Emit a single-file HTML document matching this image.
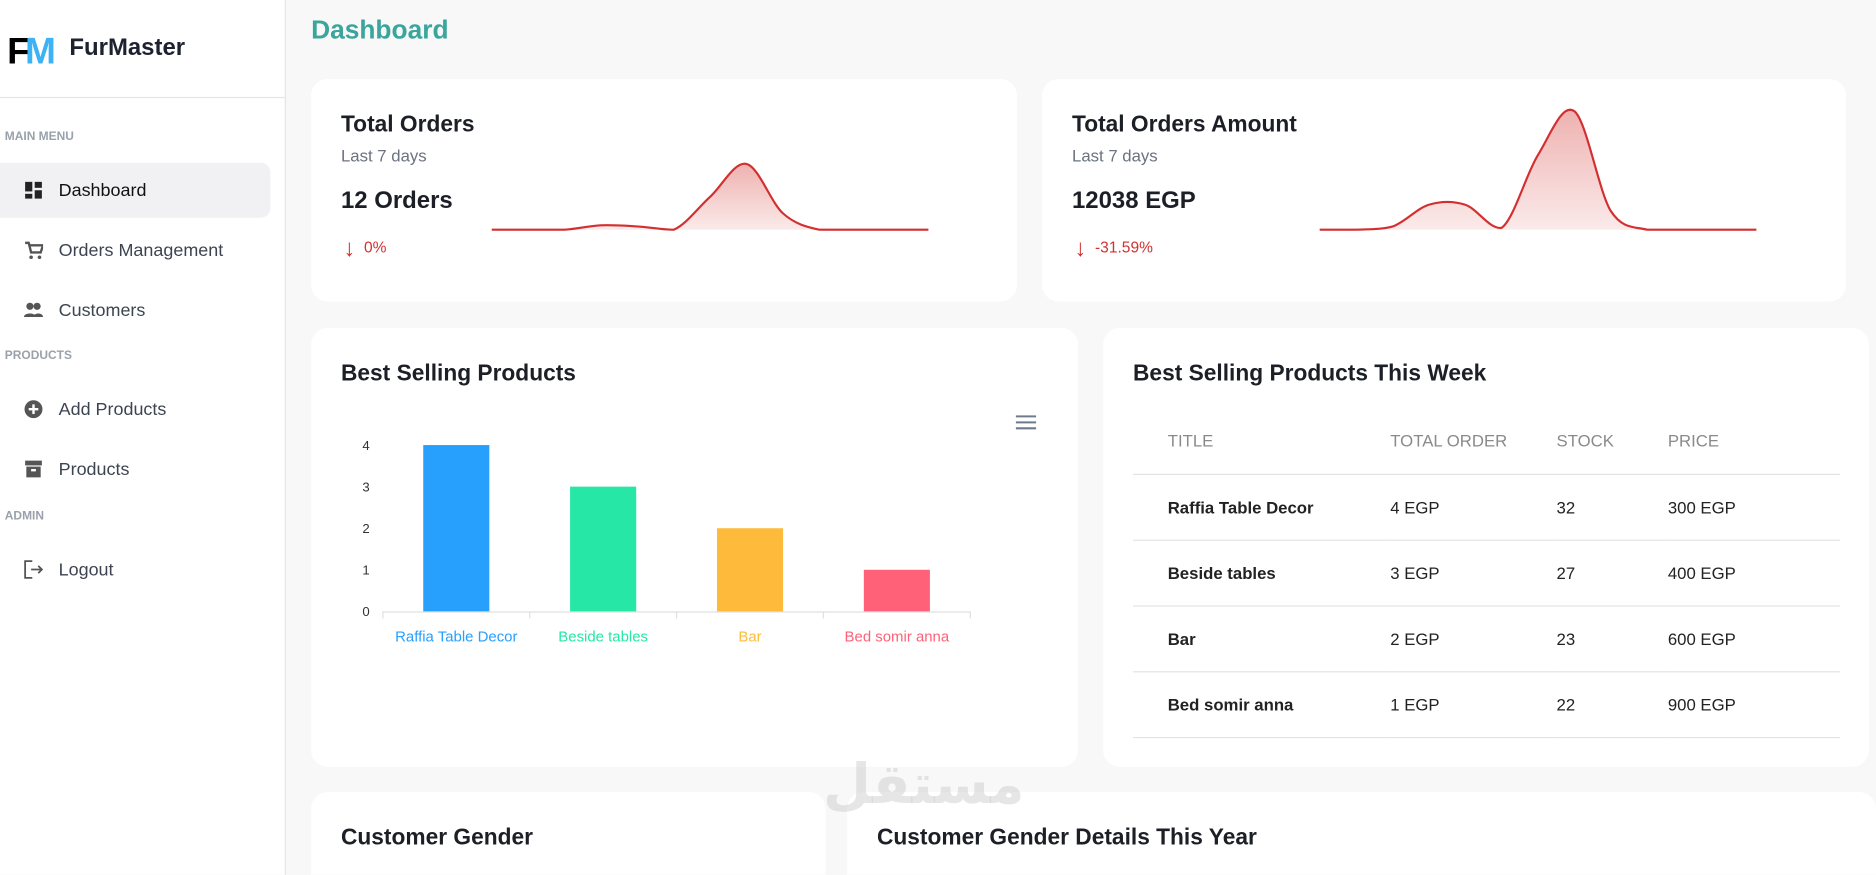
<!DOCTYPE html>
<html><head><meta charset="utf-8">
<style>
html,body{margin:0;padding:0;width:1876px;height:875px;overflow:hidden;background:#f8f8f8;font-family:"Liberation Sans",sans-serif;}
#root{position:absolute;left:0;top:0;width:1568px;height:731px;overflow:hidden;transform:scale(1.19643);transform-origin:0 0;}
.abs{position:absolute;}
.card{position:absolute;background:#fff;border-radius:14px;}
.nav{position:absolute;left:0;width:226px;height:46px;display:flex;align-items:center;font-size:15px;color:#3d4451;}
.nav svg{margin-left:20px;margin-right:13px;}
.sec{position:absolute;left:4px;font-size:10px;font-weight:bold;color:#9aa1ab;}
h2{margin:0;position:absolute;font-size:19px;font-weight:bold;color:#1c1f26;}
.sub{position:absolute;font-size:14px;color:#6b7280;}
.big{position:absolute;font-size:20px;font-weight:bold;color:#1c1f26;}
.pct{position:absolute;font-size:13px;color:#d32f2f;}
table{position:absolute;border-collapse:collapse;font-size:14px;color:#222;}
td,th{height:54px;padding:0;text-align:left;border-bottom:1px solid #e3e3e3;}
th{font-weight:normal;color:#8a8a8a;height:56px;}
</style></head><body>
<div id="root">
<div class="abs" style="left:0;top:0;width:238px;height:731px;background:#fff;border-right:1px solid #e5e5e5;">
  <div class="abs" style="left:6px;top:28px;width:40px;height:30px;font-weight:900;font-size:31px;line-height:30px;letter-spacing:-4px;"><span style="color:#000">F</span><span style="color:#3db3f5">M</span></div>
  <div class="abs" style="left:58px;top:29px;font-size:20px;font-weight:bold;color:#1c2230;">FurMaster</div>
  <div class="abs" style="left:0;top:81px;width:238px;border-top:1px solid #e5e5e5;"></div>
  <div class="sec" style="top:109px">MAIN MENU</div>
  <div class="nav" style="top:136px;background:#f1f1f3;border-radius:0 8px 8px 0;color:#111"><svg width="16" height="16"><rect x="1" y="1" width="6" height="8" fill="#222"/><rect x="9" y="1" width="6" height="5" fill="#222"/><rect x="1" y="11" width="6" height="4" fill="#222"/><rect x="9" y="8" width="6" height="7" fill="#222"/></svg>Dashboard</div>
  <div class="nav" style="top:186px"><svg width="16" height="16"><path d="M1 2h3l2 8h8l2-6H5" fill="none" stroke="#555" stroke-width="2"/><circle cx="6" cy="14" r="1.5" fill="#555"/><circle cx="13" cy="14" r="1.5" fill="#555"/></svg>Orders Management</div>
  <div class="nav" style="top:236px"><svg width="16" height="16"><circle cx="5" cy="5" r="3" fill="#555"/><circle cx="11" cy="5" r="3" fill="#555"/><path d="M0 14c0-4 10-4 10 0zM8 14c0-4 8-4 8 0z" fill="#555"/></svg>Customers</div>
  <div class="sec" style="top:292px">PRODUCTS</div>
  <div class="nav" style="top:319px"><svg width="16" height="16"><circle cx="8" cy="8" r="7.5" fill="#555"/><path d="M8 4v8M4 8h8" stroke="#fff" stroke-width="2"/></svg>Add Products</div>
  <div class="nav" style="top:369px"><svg width="16" height="16"><rect x="1" y="1" width="14" height="4" fill="#555"/><rect x="2" y="6" width="12" height="9" fill="#555"/><rect x="6" y="8" width="4" height="2" fill="#fff"/></svg>Products</div>
  <div class="sec" style="top:426px">ADMIN</div>
  <div class="nav" style="top:453px"><svg width="16" height="16"><path d="M7 1H1v14h6M6 8h9M12 5l3 3-3 3" fill="none" stroke="#555" stroke-width="1.5"/></svg>Logout</div>
</div>
<div class="abs" style="left:260px;top:12px;font-size:22px;font-weight:bold;color:#3aa59c;">Dashboard</div>

<div class="card" style="left:260px;top:66px;width:590px;height:186px">
  <h2 style="left:25px;top:28px">Total Orders</h2>
  <div class="sub" style="left:25px;top:56px">Last 7 days</div>
  <div class="big" style="left:25px;top:91px">12 Orders</div>
  <div class="pct" style="left:27px;top:131px"><span style="font-size:20px;vertical-align:-3px">↓</span>&nbsp; 0%</div>
</div>
<div class="card" style="left:871px;top:66px;width:672px;height:186px">
  <h2 style="left:25px;top:28px">Total Orders Amount</h2>
  <div class="sub" style="left:25px;top:56px">Last 7 days</div>
  <div class="big" style="left:25px;top:91px">12038 EGP</div>
  <div class="pct" style="left:27px;top:131px"><span style="font-size:20px;vertical-align:-3px">↓</span>&nbsp; -31.59%</div>
</div>
<svg class="abs" id="spark" style="left:0;top:0" width="1568" height="260"></svg>

<div class="card" style="left:260px;top:274px;width:641px;height:367px">
  <h2 style="left:25px;top:28px">Best Selling Products</h2>
  <svg class="abs" style="left:589px;top:73px" width="18" height="12"><path d="M0 1h17M0 6h17M0 11h17" stroke="#6e7b8c" stroke-width="1.7"/></svg>
</div>
<svg class="abs" id="bars" style="left:0;top:0" width="1568" height="560"></svg>

<div class="card" style="left:922px;top:274px;width:640px;height:367px">
  <h2 style="left:25px;top:28px">Best Selling Products This Week</h2>
  <table style="left:25px;top:66px;width:591px">
    <tr><th style="padding-left:29px;width:186px">TITLE</th><th style="width:139px">TOTAL ORDER</th><th style="width:93px">STOCK</th><th>PRICE</th></tr>
    <tr><td style="padding-left:29px;font-weight:bold">Raffia Table Decor</td><td>4 EGP</td><td>32</td><td>300 EGP</td></tr>
    <tr><td style="padding-left:29px;font-weight:bold">Beside tables</td><td>3 EGP</td><td>27</td><td>400 EGP</td></tr>
    <tr><td style="padding-left:29px;font-weight:bold">Bar</td><td>2 EGP</td><td>23</td><td>600 EGP</td></tr>
    <tr><td style="padding-left:29px;font-weight:bold">Bed somir anna</td><td>1 EGP</td><td>22</td><td>900 EGP</td></tr>
  </table>
</div>

<div class="card" style="left:260px;top:662px;width:430px;height:100px"><h2 style="left:25px;top:28px">Customer Gender</h2></div>
<div class="card" style="left:708px;top:662px;width:860px;height:100px"><h2 style="left:25px;top:28px">Customer Gender Details This Year</h2></div>
<div class="abs" style="left:688px;top:628px;font-size:46px;font-weight:bold;color:rgba(200,200,200,0.45);font-family:'DejaVu Sans',sans-serif;">مستقل</div>
</div>
<script>
const ordersSeries=[0,0,0,0.8,0.6,0,6,12,3,0,0,0,0];
const amountSeries=[0,0,0.5,4,4,0.3,12,19,3,0,0,0,0];
const categories=["Raffia Table Decor","Beside tables","Bar","Bed somir anna"];
const sales=[4,3,2,1];
const yTicks=[0,1,2,3,4];
const barColors=["#279ffd","#26e7a6","#febb3b","#ff6178"];
const NS="http://www.w3.org/2000/svg";
function mk(t,a,p){const e=document.createElementNS(NS,t);for(const k in a)e.setAttribute(k,a[k]);p.appendChild(e);return e;}
const sp=document.getElementById('spark');
const defs=mk('defs',{},sp);
const g=mk('linearGradient',{id:'gr',x1:0,y1:0,x2:0,y2:1},defs);
mk('stop',{offset:'0','stop-color':'#d9534f','stop-opacity':'0.45'},g);
mk('stop',{offset:'1','stop-color':'#d9534f','stop-opacity':'0.12'},g);
function spark(vals,x0,x1,base,maxV,maxH,name){
  const n=vals.length,sx=i=>x0+(x1-x0)*i/(n-1),sy=v=>base-v/maxV*maxH;
  const P=vals.map((v,i)=>[sx(i),sy(v)]);
  let d=`M${P[0][0]},${P[0][1]}`;
  for(let i=0;i<n-1;i++){const p0=P[Math.max(0,i-1)],p1=P[i],p2=P[i+1],p3=P[Math.min(n-1,i+2)];
    let c1y=p1[1]+(p2[1]-p0[1])/6,c2y=p2[1]-(p3[1]-p1[1])/6;c1y=Math.min(c1y,base);c2y=Math.min(c2y,base);
    d+=` C${p1[0]+(p2[0]-p0[0])/6},${c1y} ${p2[0]-(p3[0]-p1[0])/6},${c2y} ${p2[0]},${p2[1]}`;}
  const a=mk('path',{d:d+` L${x1},${base} L${x0},${base}Z`,fill:'url(#gr)'},sp);
  
  
  const l=mk('path',{d:d,fill:'none',stroke:'#d32f2f','stroke-width':1.8},sp);
  
  
}
spark(ordersSeries,411,776,192,12,55,'orders-sparkline');
spark(amountSeries,1103,1468,192,19,99,'amount-sparkline');
const bs=document.getElementById('bars');
const px0=320,px1=811,py0=511,py1=372,ymax=4;
const yS=v=>py0-(py0-py1)*v/ymax,band=(px1-px0)/categories.length;
yTicks.forEach(t=>{const e=mk('text',{x:309,y:yS(t)+4,'font-size':11,'text-anchor':'end',fill:'#333'},bs);e.textContent=t;
  
  });
mk('line',{x1:px0,x2:px1,y1:py0+0.5,y2:py0+0.5,stroke:'#e0e0e0'},bs);
for(let i=0;i<=categories.length;i++)mk('line',{x1:px0+band*i,x2:px0+band*i,y1:py0,y2:py0+6,stroke:'#e0e0e0'},bs);
categories.forEach((c,i)=>{const cx=px0+band*(i+0.5),w=band*0.45;
  const r=mk('rect',{x:cx-w/2,y:yS(sales[i]),width:w,height:py0-yS(sales[i]),fill:barColors[i]},bs);
  
  
  const t=mk('text',{x:cx,y:536,'font-size':12.5,'text-anchor':'middle',fill:barColors[i]},bs);t.textContent=c;
  
  });
</script>
</body></html>
